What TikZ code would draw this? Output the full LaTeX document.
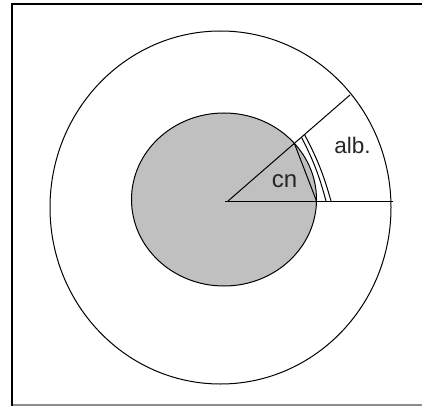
\documentclass[tikz,border=0pt]{standalone}
\usepackage{fontspec}
\setmainfont{Liberation Sans}
\usetikzlibrary{intersections,calc}
\definecolor{nucgray}{HTML}{C0C0C0}
\tikzset{
  thinline/.style={line width=1pt, black},
  framelinestyle/.style={line width=1.6pt, black},
  lbl/.style={inner sep=0pt, text=black!85}
}
\begin{document}
\begin{tikzpicture}[x=1pt,y=-1pt]
\useasboundingbox (0,0) rectangle (422,406);
\fill[white] (0,0) rectangle (422,406);
% frame
\coordinate (fTL) at (12,4);
\coordinate (fTR) at (422,4);
\coordinate (fBL) at (12,406);
\coordinate (gBL) at (12,405);
\coordinate (gBR) at (422,405);
\draw[line width=1.2pt, black!45] (gBL) -- (gBR);
\draw[framelinestyle] (fTR) -- (fTL) -- (fBL);
% outer circle
\draw[thinline, name path=outer] (220.5,207.5) ellipse [x radius=170.5, y radius=176.5];
% inner gray circle
\filldraw[thinline, fill=nucgray, name path=inner] (224,199.5) ellipse [x radius=92.5, y radius=86.5];
% radial and horizontal lines
\coordinate (V) at (228,201);
\coordinate (Rend) at (350,95);
\coordinate (Hend) at (393,201);
\path[name path=radial] (V) -- (Rend);
\path[name path=horiz] (V) -- (Hend);
\path[name intersections={of=inner and radial, by=Ir}];
\path[name intersections={of=inner and horiz, by=Ih}];
\draw[thinline] (V) -- (Rend);
\draw[thinline] (225,201) -- (Hend);
% chord of cn segment
\draw[thinline] (Ir) -- (Ih);
% double boundary of the albumen sector
\coordinate (a1) at ($(V)!0.602!(Rend)$);
\coordinate (a2) at ($(V)!0.627!(Rend)$);
\coordinate (b1) at (326,201);
\coordinate (b2) at (331,201);
\draw[thinline] (a1) to[bend left=6] (b1);
\draw[thinline] (a2) to[bend left=6] (b2);
% labels
\node[lbl, font=\fontsize{24}{24}\selectfont] (cn) at (284.5,181) {cn};
\node[lbl, font=\fontsize{22.5}{22.5}\selectfont] (alb) at (352.5,145) {alb.};
\end{tikzpicture}
\end{document}
